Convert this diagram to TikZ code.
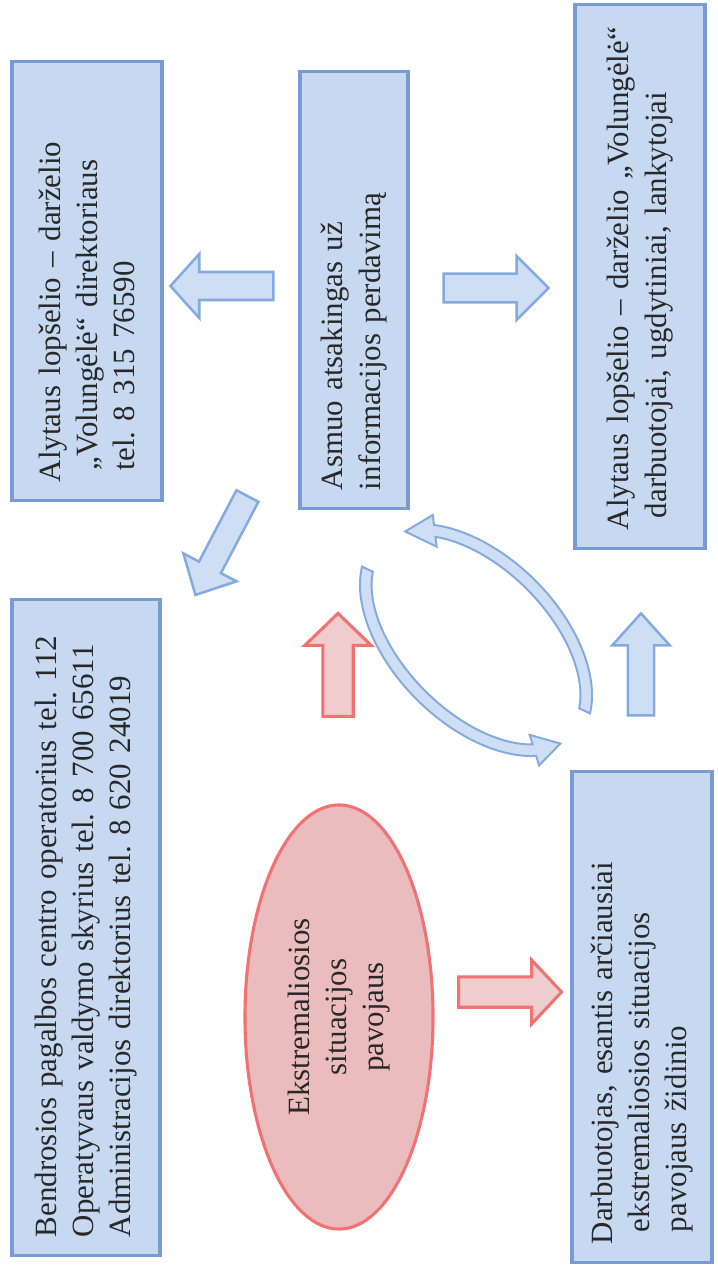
\documentclass[tikz,border=0pt]{standalone}
\usepackage{fontspec}
\setmainfont{Liberation Serif}
\usetikzlibrary{shapes.geometric,calc}
\definecolor{boxfill}{RGB}{198,217,241}
\definecolor{boxedge}{RGB}{120,155,212}
\definecolor{arrowfill}{RGB}{206,223,245}
\definecolor{arrowedge}{RGB}{132,170,222}
\definecolor{dangerfill}{RGB}{234,188,190}
\definecolor{dangeredge}{RGB}{240,114,114}
\definecolor{textgray}{RGB}{40,40,40}
\frenchspacing
\hyphenpenalty=10000
% block arrow: style, tail, tip, half shaft, half head, head length
\newcommand{\blockarrow}[6]{%
\coordinate (ba-h) at ($(#3)!#6!(#2)$);
\filldraw[#1] ($(#2)!#4!90:(#3)$) -- ($(ba-h)!#4!90:(#3)$) -- ($(ba-h)!#5!90:(#3)$) -- (#3)
  -- ($(ba-h)!#5!-90:(#3)$) -- ($(ba-h)!#4!-90:(#3)$) -- ($(#2)!#4!-90:(#3)$) -- cycle;}
\begin{document}
\begin{tikzpicture}[x=0.025cm,y=-0.025cm,
infobox/.style={draw=boxedge,fill=boxfill,line width=2.2pt,rotate=90,align=left,inner xsep=0.45cm,inner ysep=0pt,text=textgray,font=\fontsize{22}{26.5}\selectfont},
danger/.style={draw=dangeredge,fill=dangerfill,line width=2.2pt,ellipse,rotate=90,align=center,inner sep=0pt,text=textgray,font=\fontsize{22}{26.5}\selectfont},
bluearrow/.style={draw=arrowedge,fill=arrowfill,line width=1.8pt},
redarrow/.style={draw=dangeredge,fill=dangerfill!75!white,line width=2.2pt},
ringarrow/.style={draw=arrowedge,fill=arrowfill,line width=1.4pt},
declare function={ringx(\ang,\ra,\rb)=476+0.707*(\ra*cos(\ang)-\rb*sin(\ang));
  ringy(\ang,\ra,\rb)=640+0.707*(\ra*cos(\ang)+\rb*sin(\ang));}]
\useasboundingbox (0,0) rectangle (717,1267);
\draw (86,927.5) node[infobox,minimum width=16.375cm,minimum height=3.7cm,text width=15.475cm] (pagalba)
  {Bendrosios pagalbos centro operatorius tel. 112\\Operatyvaus valdymo skyrius tel. 8 700 65611\\Administracijos direktorius tel. 8 620 24019};
\draw (87,281) node[infobox,minimum width=10.95cm,minimum height=3.75cm,text width=10.05cm] (direktorius)
  {Alytaus lopšelio – darželio\\\hspace*{0.3cm}„Volungėlė“ direktoriaus\\\hspace*{0.3cm}tel. 8 315 76590};
\draw (354,290) node[infobox,minimum width=10.9cm,minimum height=2.7cm,text width=10cm] (asmuo)
  {Asmuo atsakingas už\\informacijos perdavimą};
\draw (640,276.5) node[infobox,minimum width=13.575cm,minimum height=3.25cm,text width=12.675cm] (bendruomene)
  {Alytaus lopšelio – darželio „Volungėlė“\\\hspace*{0.3cm}darbuotojai, ugdytiniai, lankytojai};
\draw (642,1017) node[infobox,minimum width=12.25cm,minimum height=3.5cm,text width=11.35cm] (darbuotojas)
  {Darbuotojas, esantis arčiausiai\\\hspace*{0.3cm}ekstremaliosios situacijos\\\hspace*{0.3cm}pavojaus židinio};
\draw (339,1017) node[danger,minimum width=10.6cm,minimum height=4.7cm] (pavojus)
  {Ekstremaliosios\\situacijos\\pavojaus};
% arrow ends
\coordinate (l1) at ($(asmuo.north)+(-25,-4)$);
\coordinate (l2) at ($(asmuo.north)+(-128,-4)$);
\coordinate (r1) at ($(asmuo.south)+(34,-2)$);
\coordinate (r2) at ($(asmuo.south)+(139,-2)$);
\coordinate (d1) at ($(asmuo.north)+(-51,206)$);
\coordinate (d2) at ($(asmuo.north)+(-103,305)$);
\coordinate (u1) at ($(darbuotojas.east)+(-1,-55)$);
\coordinate (u2) at ($(darbuotojas.east)+(-1,-157)$);
\coordinate (p1) at ($(pavojus.east)+(-1,-87)$);
\coordinate (p2) at ($(pavojus.east)+(-1,-190)$);
\coordinate (q1) at ($(pavojus.south)+(24,-25)$);
\coordinate (q2) at ($(pavojus.south)+(127,-25)$);
\blockarrow{bluearrow}{l1}{l2}{0.35cm}{0.8cm}{0.72cm}
\blockarrow{bluearrow}{r1}{r2}{0.36cm}{0.8cm}{0.8cm}
\blockarrow{bluearrow}{d1}{d2}{0.31cm}{0.75cm}{0.78cm}
\blockarrow{bluearrow}{u1}{u2}{0.33cm}{0.72cm}{0.8cm}
\blockarrow{redarrow}{p1}{p2}{0.38cm}{0.83cm}{0.8cm}
\blockarrow{redarrow}{q1}{q2}{0.38cm}{0.8cm}{0.75cm}
% ring between asmuo and darbuotojas
\filldraw[ringarrow] plot[domain=340:218,samples=40] ({ringx(\x,141,84)},{ringy(\x,141,84)})
  -- ({ringx(218,151,94)},{ringy(218,151,94)}) -- ({ringx(200,135,78)},{ringy(200,135,78)})
  -- ({ringx(218,119,62)},{ringy(218,119,62)})
  -- plot[domain=218:340,samples=40] ({ringx(\x,129,72)},{ringy(\x,129,72)}) -- cycle;
\filldraw[ringarrow] plot[domain=160:28,samples=40] ({ringx(\x,141,84)},{ringy(\x,141,84)})
  -- ({ringx(28,151,94)},{ringy(28,151,94)}) -- ({ringx(10,135,78)},{ringy(10,135,78)})
  -- ({ringx(28,119,62)},{ringy(28,119,62)})
  -- plot[domain=28:160,samples=40] ({ringx(\x,129,72)},{ringy(\x,129,72)}) -- cycle;
\end{tikzpicture}
\end{document}
